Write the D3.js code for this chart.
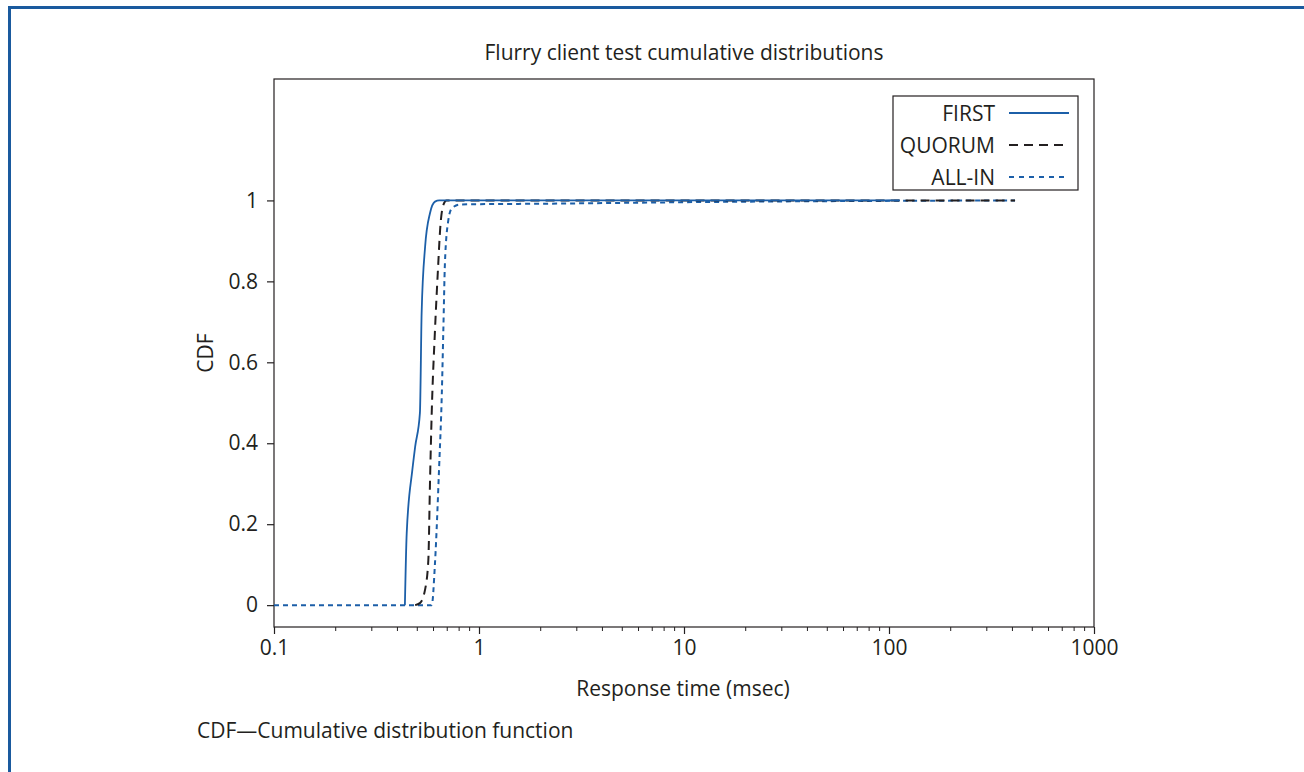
<!DOCTYPE html>
<html>
<head>
<meta charset="utf-8">
<script src="https://cdn.jsdelivr.net/npm/d3@7"></script>
<style>
  body { margin: 0; background: #fff; }
  text { font-family: "Open Sans", "Noto Sans", sans-serif; fill: #231f20; }
</style>
</head>
<body>
<div id="chart"></div>
<script>
// response time (msec) / CDF pairs
var firstX  = [0.435, 0.444, 0.473, 0.488, 0.515, 0.525, 0.546, 0.577, 0.61, 0.64, 113];
var firstY  = [0, 0.178, 0.334, 0.391, 0.475, 0.722, 0.886, 0.969, 0.997, 1, 1];
var quorumX = [0.488, 0.515, 0.545, 0.566, 0.577, 0.588, 0.61, 0.633, 0.646, 0.67, 0.695, 412];
var quorumY = [0, 0.005, 0.037, 0.111, 0.309, 0.475, 0.68, 0.845, 0.927, 0.989, 1, 1];
var allinX  = [0.1, 0.588, 0.61, 0.64, 0.658, 0.67, 0.682, 0.708, 0.736, 0.808, 2.2, 12, 412];
var allinY  = [0, 0, 0.104, 0.35, 0.515, 0.68, 0.845, 0.95, 0.98, 0.99, 0.992, 0.996, 1];
var seriesNames = ["FIRST", "QUORUM", "ALL-IN"];
var xTicks = [0.1, 1, 10, 100, 1000];
var yTicks = [0, 0.2, 0.4, 0.6, 0.8, 1];

var W = 1304, H = 772;
var blue = "#1c5fa8", dark = "#231f20";
var fs = "21px";
var svg = d3.select("#chart").append("svg").attr("width", W).attr("height", H);

// frame of the figure
svg.append("line").attr("x1", 8).attr("x2", W).attr("y1", 7.5).attr("y2", 7.5)
    .attr("stroke", "#1a5a9e").attr("stroke-width", 3);
svg.append("line").attr("x1", 9.5).attr("x2", 9.5).attr("y1", 6).attr("y2", H)
    .attr("stroke", "#1a5a9e").attr("stroke-width", 3);

var pLeft = 274, pRight = 1094, pTop = 79, pBottom = 627;
var x = d3.scaleLog().domain([0.1, 1000]).range([pLeft, pRight]);
var y = d3.scaleLinear().domain([-0.054, 1.3]).range([pBottom, pTop]);

// plot box
svg.append("rect").attr("x", pLeft).attr("y", pTop)
    .attr("width", pRight - pLeft).attr("height", pBottom - pTop)
    .attr("fill", "none").attr("stroke", dark).attr("stroke-width", 1.2);

// minor ticks on log axis
var minor = [];
for (var d = 0.1; d < 1000; d *= 10) {
  for (var k = 2; k <= 9; k++) minor.push(d * k);
}
svg.append("g").selectAll("line").data(minor).enter().append("line")
    .attr("x1", function (v) { return x(v); })
    .attr("x2", function (v) { return x(v); })
    .attr("y1", pBottom).attr("y2", pBottom + 4)
    .attr("stroke", dark).attr("stroke-width", 1);

var xAxis = svg.append("g").attr("transform", "translate(0," + pBottom + ")")
    .call(d3.axisBottom(x).tickValues(xTicks).tickSize(7).tickPadding(6)
      .tickFormat(function (v) { return String(v); }));
xAxis.select(".domain").remove();
xAxis.selectAll("line").attr("stroke", dark).attr("stroke-width", 1.2);
xAxis.selectAll("text").style("font-size", fs).attr("font-family", null);

var yAxis = svg.append("g").attr("transform", "translate(" + pLeft + ",0)")
    .call(d3.axisLeft(y).tickValues(yTicks).tickSize(7).tickPadding(9)
      .tickFormat(function (v) { return String(+v.toFixed(1)); }));
yAxis.select(".domain").remove();
yAxis.selectAll("line").attr("stroke", dark).attr("stroke-width", 1.2);
yAxis.selectAll("text").style("font-size", fs).attr("font-family", null);

// curves
var series = [
  { xs: allinX, ys: allinY, color: blue, dash: "5,4", w: 2 },
  { xs: quorumX, ys: quorumY, color: dark, dash: "9,6", w: 2 },
  { xs: firstX, ys: firstY, color: blue, dash: null, w: 1.8 }
];
var line = d3.line()
    .x(function (p) { return x(p[0]); })
    .y(function (p) { return y(p[1]); })
    .curve(d3.curveMonotoneX);
series.forEach(function (s) {
  var pts = s.xs.map(function (v, i) { return [v, s.ys[i]]; });
  svg.append("path").datum(pts).attr("d", line)
      .attr("fill", "none").attr("stroke", s.color)
      .attr("stroke-width", s.w)
      .attr("stroke-dasharray", s.dash);
});

// legend
var lg = svg.append("g");
lg.append("rect").attr("x", 893).attr("y", 96).attr("width", 185).attr("height", 94)
    .attr("fill", "#fff").attr("stroke", dark).attr("stroke-width", 1.2);
var legendStyle = [
  { color: blue, w: 1.8, dash: null, x2: 1069 },
  { color: dark, w: 2, dash: "9,6", x2: 1064 },
  { color: blue, w: 2, dash: "5,5", x2: 1065 }
];
seriesNames.forEach(function (name, i) {
  var yy = 113 + i * 32;
  lg.append("text").attr("x", 995).attr("y", yy).attr("dy", "0.36em")
      .attr("text-anchor", "end").style("font-size", fs).text(name);
  lg.append("line").attr("x1", 1009).attr("x2", legendStyle[i].x2).attr("y1", yy).attr("y2", yy)
      .attr("stroke", legendStyle[i].color).attr("stroke-width", legendStyle[i].w)
      .attr("stroke-dasharray", legendStyle[i].dash);
});

// titles
svg.append("text").attr("x", 684).attr("y", 60).attr("text-anchor", "middle")
    .style("font-size", fs).text("Flurry client test cumulative distributions");
svg.append("text").attr("x", 683).attr("y", 696).attr("text-anchor", "middle")
    .style("font-size", fs).text("Response time (msec)");
svg.append("text").attr("transform", "translate(213,353) rotate(-90)")
    .attr("text-anchor", "middle").style("font-size", fs).text("CDF");
svg.append("text").attr("x", 197).attr("y", 738)
    .style("font-size", fs).text("CDF\u2014Cumulative distribution function");
</script>
</body>
</html>
